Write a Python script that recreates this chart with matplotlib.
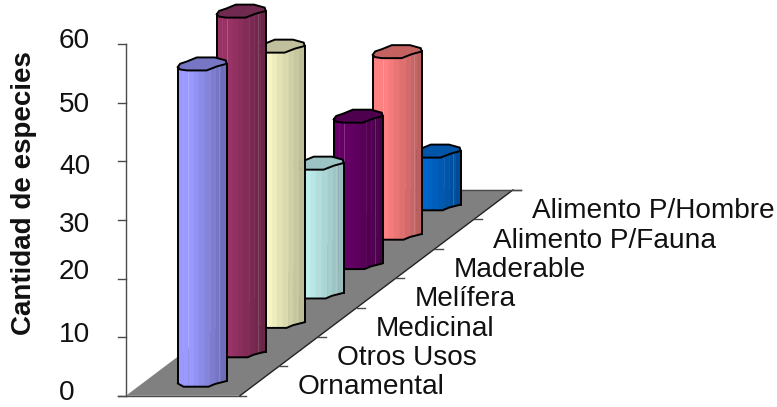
import matplotlib
matplotlib.use("Agg")
import matplotlib.pyplot as plt
from matplotlib.patches import Polygon

plt.rcParams['font.family'] = ['Liberation Sans', 'DejaVu Sans']

categories = ["Ornamental", "Otros Usos", "Medicinal", "Melífera",
              "Maderable", "Alimento P/Fauna", "Alimento P/Hombre"]
values = [54, 58, 47, 22, 25, 31, 9]
value_ticks = [0, 10, 20, 30, 40, 50, 60]
# Heights of the value labels, which sit unevenly beside their ticks
value_label_pos = [1.0, 10.9, 21.7, 29.7, 39.6, 50.2, 61.1]
y_title = "Cantidad de especies"

side_light = ["#9999FF", "#993366", "#F6F6C4", "#BEEEEC", "#660066", "#FF8080", "#0066CC"]
side_dark = ["#6E6EB8", "#6C2448", "#BDBD97", "#97BDBD", "#4A004A", "#BD5F5F", "#004C97"]
top_fill = ["#7676C4", "#70294F", "#C0C09C", "#9CC4C4", "#4E004E", "#C46262", "#0055A8"]

# Oblique projection: px per value unit, and the shift of one category in depth
Y0 = 395.7
PX_PER_UNIT = 351.4 / 60
STEP_X = 39.0
STEP_V = 29.4 / PX_PER_UNIT
BAR_W = 49.0
FLOOR_L, FLOOR_R = 126.0, 240.0
FIRST_BAR_X = 177.7
FIRST_BAR_BASE = 9.0 / PX_PER_UNIT
LABEL_SIZE = 20.2

fig = plt.figure(figsize=(7.77, 4.07), dpi=100)
ax = fig.add_axes([0, 0, 1, 1])
ax.set_xlim(0, 777)
ax.set_ylim(-(407 - Y0) / PX_PER_UNIT, Y0 / PX_PER_UNIT)
ax.axis("off")

AXIS_GREY = "#4A4A4A"
n = len(categories)
back_right = FLOOR_R + n * STEP_X

# Floor
floor = [(FLOOR_L, 0), (FLOOR_R, 0),
         (back_right, n * STEP_V), (FLOOR_L + n * STEP_X, n * STEP_V)]
ax.add_patch(Polygon(floor, closed=True, fc="#808080", ec="none", zorder=1))
ax.plot([118, FLOOR_R + 6], [0, 0], color=AXIS_GREY, lw=1.0, zorder=2)
ax.plot([FLOOR_R, back_right], [0, n * STEP_V], color="#222222", lw=1.0, zorder=2)
ax.plot([FLOOR_L + n * STEP_X, back_right + 8], [n * STEP_V] * 2, color=AXIS_GREY, lw=1.0, zorder=2)

# Value axis with ticks
ax.plot([FLOOR_L, FLOOR_L], [0, 60], color=AXIS_GREY, lw=1.0, zorder=2)
for v, pos in zip(value_ticks, value_label_pos):
    ax.plot([118, FLOOR_L], [v, v], color=AXIS_GREY, lw=1.0, zorder=2)
    ax.text(59, pos, str(v), ha="left", va="center_baseline", fontsize=LABEL_SIZE, color="#111111")

# Depth ticks and category labels
for i, name in enumerate(categories):
    ax.plot([FLOOR_R + (i + 1) * STEP_X, FLOOR_R + (i + 1) * STEP_X + 8],
            [(i + 1) * STEP_V] * 2, color=AXIS_GREY, lw=1.0, zorder=2)
    ax.text(298 + i * STEP_X, (Y0 - 394.5) / PX_PER_UNIT + i * STEP_V, name,
            ha="left", va="baseline", fontsize=LABEL_SIZE, color="#111111")

ax.text(24.5, (Y0 - 193.5) / PX_PER_UNIT, y_title, rotation=90, ha="center", va="center",
        fontsize=20, fontweight="bold", color="#111111")

# Cap outline: fraction across the bar, px above the lowest front point
cap_shape = [(0.00, 3.3), (0.05, 6.7), (0.19, 9.0), (0.39, 13.0), (0.76, 13.0), (0.98, 10.0),
             (1.00, 6.7), (0.80, 4.0), (0.59, 0.0), (0.19, 0.0), (0.05, 1.0)]
front_cap = [(0.00, 3.3), (0.05, 1.0), (0.19, 0.0), (0.59, 0.0), (0.80, 4.0), (1.00, 6.7)]
base_front = [(0.00, 3.3), (0.12, 0.0), (0.63, 0.0), (0.76, 2.7), (1.00, 5.7)]
N_BANDS = 9


def mix(c1, c2, t):
    a = matplotlib.colors.to_rgb(c1)
    b = matplotlib.colors.to_rgb(c2)
    return tuple(p + (q - p) * t for p, q in zip(a, b))


def edge_height(shape, u):
    for (u0, h0), (u1, h1) in zip(shape, shape[1:]):
        if u0 <= u <= u1:
            return h0 + (h1 - h0) * (u - u0) / (u1 - u0)
    return shape[-1][1]


# Painted back to front so nearer columns overlap farther ones
for i in reversed(range(n)):
    x0 = FIRST_BAR_X + i * STEP_X
    base = FIRST_BAR_BASE + i * STEP_V
    top = base + values[i]
    z = 4 + (n - i) * 2
    for b in range(N_BANDS):
        u0, u1 = b / N_BANDS, (b + 1) / N_BANDS
        us = [u0 + (u1 - u0) * k / 4 for k in range(5)]
        upper = [(x0 + BAR_W * u, top + edge_height(front_cap, u) / PX_PER_UNIT) for u in us]
        lower = [(x0 + BAR_W * u, base + edge_height(base_front, u) / PX_PER_UNIT) for u in reversed(us)]
        t = 0 if b < 2 else (b - 2) / (N_BANDS - 3)
        col = mix(side_light[i], side_dark[i], t)
        ax.add_patch(Polygon(upper + lower, closed=True, fc=col, ec=col, lw=0.3, zorder=z - 1))
    # Thin facet seam near the shaded side
    seam = mix(side_dark[i], "white", 0.2)
    ax.plot([x0 + BAR_W * 0.84] * 2,
            [base + 6 / PX_PER_UNIT, top + edge_height(front_cap, 0.84) / PX_PER_UNIT],
            color=seam, lw=0.6, zorder=z - 1)
    cap = [(x0 + BAR_W * u, top + h / PX_PER_UNIT) for u, h in cap_shape]
    ax.add_patch(Polygon(cap, closed=True, fc=top_fill[i], ec="black", lw=1.4, zorder=z))
    bottom = [(x0 + BAR_W * u, base + h / PX_PER_UNIT) for u, h in base_front]
    ax.plot([p[0] for p in bottom], [p[1] for p in bottom], color="black", lw=1.4, zorder=z,
            solid_capstyle="round")
    for u, h_t, h_b in [(0.0, 3.3, 3.3), (1.0, 6.7, 5.7)]:
        ax.plot([x0 + BAR_W * u] * 2, [base + h_b / PX_PER_UNIT, top + h_t / PX_PER_UNIT],
                color="black", lw=1.4, zorder=z)

fig.savefig("out.png", dpi=100, facecolor="white")
